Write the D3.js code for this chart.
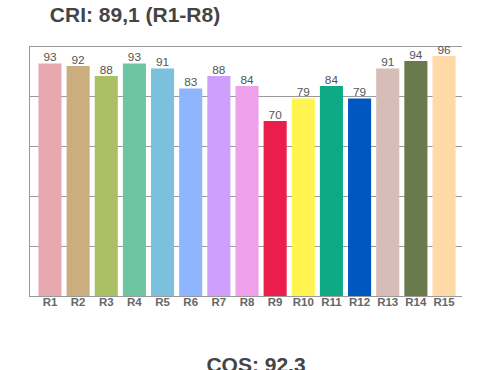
<!DOCTYPE html>
<html>
<head>
<meta charset="utf-8">
<script src="https://cdn.jsdelivr.net/npm/d3@7"></script>
<style>
  body { margin: 0; background: #fff; }
  text { font-family: "Liberation Sans", Arial, sans-serif; }
</style>
</head>
<body>
<svg id="chart" width="500" height="370"></svg>
<script>
const categories = ["R1", "R2", "R3", "R4", "R5", "R6", "R7", "R8", "R9", "R10", "R11", "R12", "R13", "R14", "R15"];
const values = [93, 92, 88, 93, 91, 83, 88, 84, 70, 79, 84, 79, 91, 94, 96];
const colors = ["#e8a8b0", "#cbad80", "#aac062", "#6dc6a1", "#7bc1de", "#8fb5fe", "#cf9ffd", "#eea1ea",
  "#ea1d4b", "#fff450", "#0eaa86", "#0057c0", "#d6bdb8", "#6b7a4d", "#ffd9a8"];
const yTicks = [0, 20, 40, 60, 80, 100];

const svg = d3.select("#chart");
const plot = { left: 30, right: 462, top: 46, bottom: 296 };

const x = d3.scaleBand()
  .domain(categories)
  .range([plot.left, 464])
  .paddingInner(0.18)
  .paddingOuter(0.3);

const y = d3.scaleLinear().domain([0, 100]).range([plot.bottom, plot.top]);

// gridlines
svg.append("g")
  .selectAll("line")
  .data(yTicks)
  .join("line")
  .attr("x1", plot.left)
  .attr("x2", plot.right)
  .attr("y1", (d) => Math.round(y(d)) + 0.5)
  .attr("y2", (d) => Math.round(y(d)) + 0.5)
  .attr("stroke", "#9a9a9a")
  .attr("stroke-width", 1);

// left axis line
svg.append("line")
  .attr("x1", plot.left - 0.5)
  .attr("x2", plot.left - 0.5)
  .attr("y1", y(100))
  .attr("y2", y(0) + 1)
  .attr("stroke", "#9a9a9a");

// bars
svg.append("g")
  .selectAll("rect")
  .data(values)
  .join("rect")
  .attr("x", (d, i) => x(categories[i]))
  .attr("width", x.bandwidth())
  .attr("y", (d) => y(d))
  .attr("height", (d) => y(0) - y(d))
  .attr("fill", (d, i) => colors[i]);

// value labels
svg.append("g")
  .selectAll("text")
  .data(values)
  .join("text")
  .attr("x", (d, i) => x(categories[i]) + x.bandwidth() / 2)
  .attr("y", (d) => y(d) - 2.5)
  .attr("text-anchor", "middle")
  .attr("font-size", 11.8)
  .attr("fill", "#555")
  .text((d) => d);

// x axis labels
svg.append("g")
  .selectAll("text")
  .data(categories)
  .join("text")
  .attr("x", (d) => x(d) + x.bandwidth() / 2)
  .attr("y", 306)
  .attr("text-anchor", "middle")
  .attr("font-size", 11.5)
  .attr("font-weight", "bold")
  .attr("fill", "#666")
  .text((d) => d);

// titles
svg.append("text")
  .attr("x", 135)
  .attr("y", 22)
  .attr("text-anchor", "middle")
  .attr("font-size", 21)
  .attr("font-weight", "bold")
  .attr("fill", "#444")
  .text("CRI: 89,1 (R1-R8)");

svg.append("text")
  .attr("x", 256)
  .attr("y", 372)
  .attr("text-anchor", "middle")
  .attr("font-size", 21)
  .attr("font-weight", "bold")
  .attr("fill", "#444")
  .text("CQS: 92.3");
</script>
</body>
</html>
